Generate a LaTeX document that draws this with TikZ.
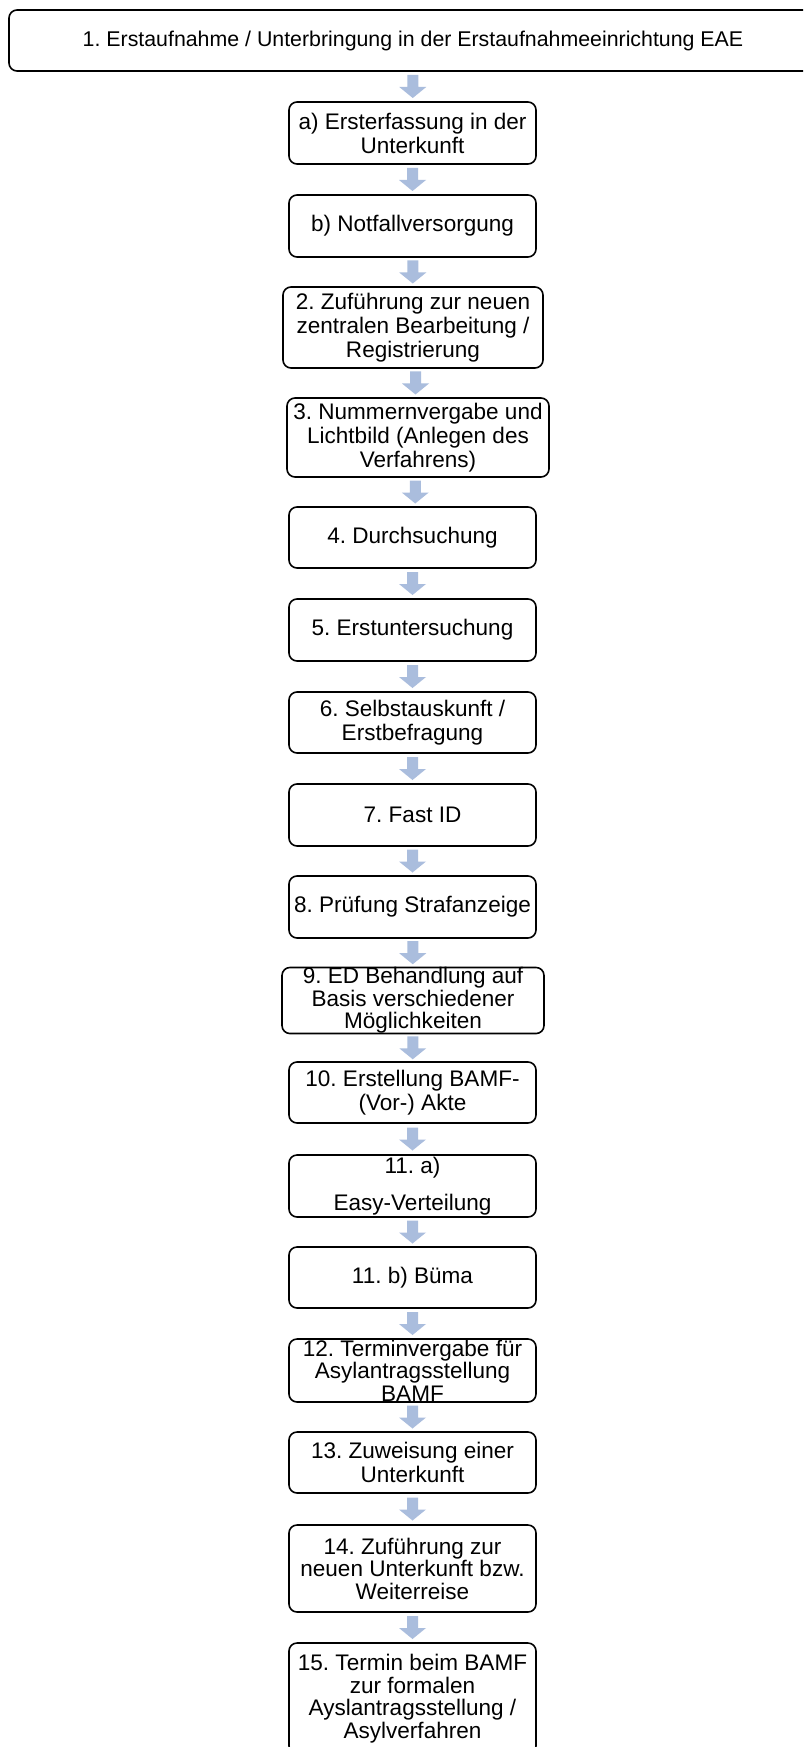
\documentclass[tikz,border=0pt]{standalone}
\usepackage{fontspec}
\setmainfont{Liberation Sans}
\usetikzlibrary{calc}
\definecolor{arrowc}{RGB}{170,189,221}
\tikzset{
  x=0.75pt, y=-0.75pt,
  stepbox/.style={draw=black, line width=1.2pt, rounded corners=6pt, align=center,
    inner sep=0pt, text=black, font=\fontsize{16.9}{18}\selectfont\frenchspacing},
  tightbox/.style={font=\fontsize{16.9}{16.9}\selectfont\frenchspacing},
  topbox/.style={font=\fontsize{16}{18}\selectfont\frenchspacing},
  darrow/.pic={\fill[arrowc] (-5.5,-11.5) -- (5.5,-11.5) -- (5.5,0.5) -- (13.5,0.5)
     -- (0,11.5) -- (-13.5,0.5) -- (-5.5,0.5) -- cycle;}
}
\newcommand\flowbox[7][]{\node[stepbox, #1, minimum width={(#5-#3)*0.75pt},
  minimum height={(#6-#4)*0.75pt}] (#2) at ({(#3+#5)/2},{(#4+#6)/2}) {#7};}
\begin{document}
\frenchspacing
\begin{tikzpicture}
\useasboundingbox (0,0) rectangle (803,1747);
\clip (0,0) rectangle (803,1747);
\fill[white] (0,0) rectangle (803,1747);
\flowbox[topbox]{n1}{9}{10}{817}{71}{1. Erstaufnahme / Unterbringung in der Erstaufnahmeeinrichtung EAE}
\flowbox{na}{289}{102}{536}{164}{a) Ersterfassung in der\\Unterkunft}
\flowbox{nb}{289}{195}{536}{257}{b) Notfallversorgung}
\flowbox{n2}{283}{287}{543}{368}{2. Zuführung zur neuen\\zentralen Bearbeitung /\\Registrierung}
\flowbox{n3}{287}{398}{549}{477}{3. Nummernvergabe und\\Lichtbild (Anlegen des\\Verfahrens)}
\flowbox{n4}{289}{507}{536}{568}{4. Durchsuchung}
\flowbox{n5}{289}{599}{536}{661}{5. Erstuntersuchung}
\flowbox{n6}{289}{692}{536}{753}{6. Selbstauskunft /\\Erstbefragung}
\flowbox{n7}{289}{784}{536}{846}{7. Fast ID}
\flowbox{n8}{289}{876}{536}{938}{8. Prüfung Strafanzeige}
\flowbox[tightbox]{n9}{282}{969}{544}{1032}{9. ED Behandlung auf\\Basis verschiedener\\Möglichkeiten}
\flowbox{n10}{289}{1062}{536}{1123}{10. Erstellung BAMF-\\(Vor-) Akte}
\flowbox{n11a}{289}{1155}{536}{1217}{11. a)\\[10pt]Easy-Verteilung}
\flowbox{n11b}{289}{1247}{536}{1308}{11. b) Büma}
\flowbox[tightbox]{n12}{289}{1339}{536}{1402}{12. Terminvergabe für\\Asylantragsstellung\\BAMF}
\flowbox{n13}{289}{1432}{536}{1493}{13. Zuweisung einer\\Unterkunft}
\flowbox[tightbox]{n14}{289}{1525}{536}{1612}{14. Zuführung zur\\neuen Unterkunft bzw.\\Weiterreise}
\flowbox[tightbox]{n15}{289}{1643}{536}{1754}{15. Termin beim BAMF\\zur formalen\\Ayslantragsstellung /\\Asylverfahren}
\foreach \a/\b in {n1/na, na/nb, nb/n2, n2/n3, n3/n4, n4/n5, n5/n6, n6/n7, n7/n8,
  n8/n9, n9/n10, n10/n11a, n11a/n11b, n11b/n12, n12/n13, n13/n14, n14/n15}
  \pic at ($(\a.south)!0.5!(\b.north)$) {darrow};
\end{tikzpicture}
\end{document}
